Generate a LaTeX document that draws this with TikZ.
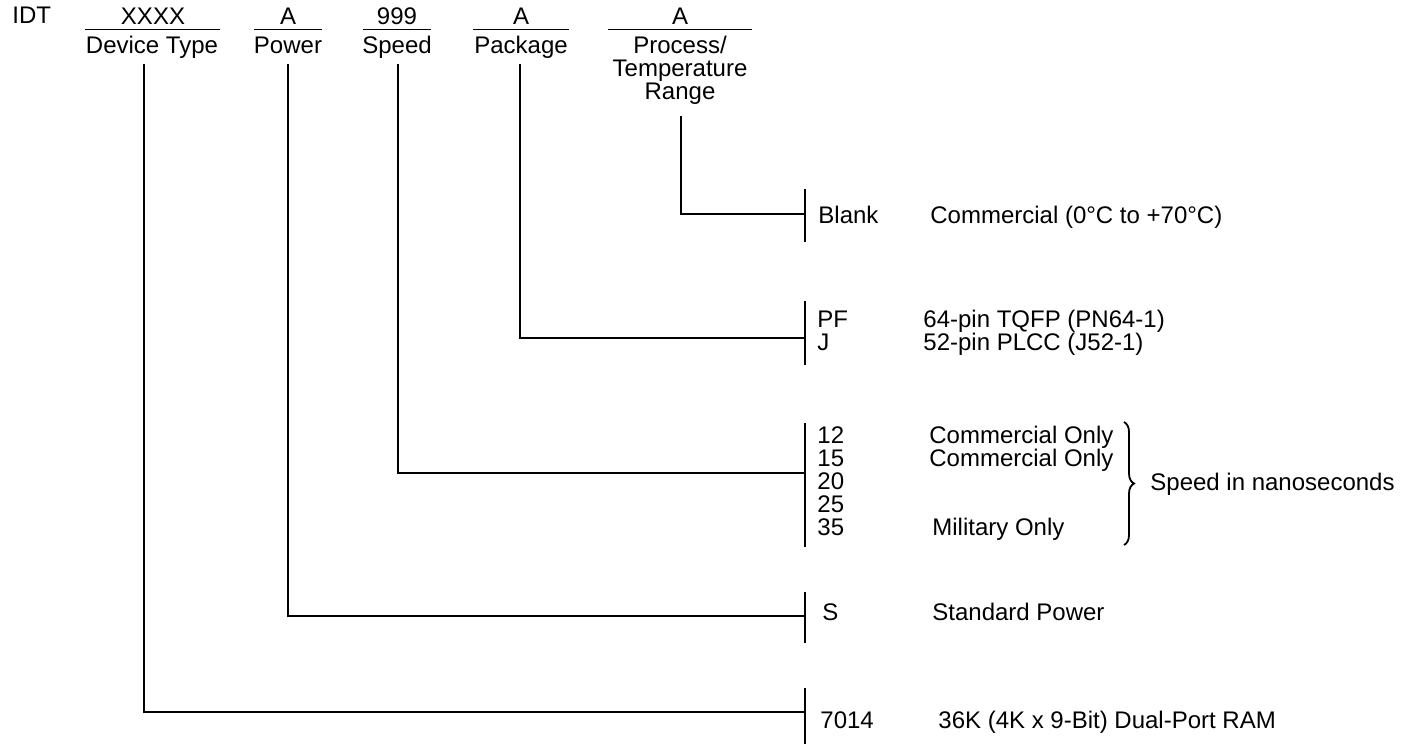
\documentclass[tikz,border=0pt]{standalone}
\usepackage{fontspec}
\setmainfont{Liberation Sans}
\usetikzlibrary{decorations.pathreplacing}
\begin{document}
\begin{tikzpicture}[x=0.5pt,y=-0.5pt,
  lbl/.style={inner sep=0pt, anchor=base, font=\fontsize{12}{14}\selectfont},
  lw/.style={inner sep=0pt, anchor=base west, font=\fontsize{12}{14}\selectfont},
  ln/.style={line width=0.7pt},
  brc/.style={line width=0.9pt, decorate, decoration={brace, amplitude=5pt}}]
\useasboundingbox (0,0) rectangle (1416,744);

% ---- header ----
\node[lw]  (idt) at (12,24) {IDT};
\node[lbl] (fx)  at (153,24.5) {XXXX};
\node[lbl] (fpw) at (288,24.5) {A};
\node[lbl] (fsp) at (397,24.5) {999};
\node[lbl] (fpk) at (521,24.5) {A};
\node[lbl] (fpr) at (680,24.5) {A};

\draw[ln] (85,29.5) -- (220,29.5);
\draw[ln] (254,29.5) -- (322,29.5);
\draw[ln] (363,29.5) -- (431,29.5);
\draw[ln] (473,29.5) -- (569,29.5);
\draw[ln] (608,29.5) -- (752,29.5);

\node[lbl] (ldt) at (152,53) {Device Type};
\node[lbl] (lpw) at (288,53) {Power};
\node[lbl] (lsp) at (397,53) {Speed};
\node[lbl] (lpk) at (521,53) {Package};
\node[lbl] (lpr1) at (680,53) {Process/};
\node[lbl] (lpr2) at (680,76) {Temperature};
\node[lbl] (lpr3) at (680,99) {Range};

% ---- lead tops ----
\coordinate (tdt) at (144,64);
\coordinate (tpw) at (288,64);
\coordinate (tsp) at (398,64);
\coordinate (tpk) at (520,64);
\coordinate (tpr) at (681,116);

% ---- bars ----
\coordinate (jpr) at (805,214);
\coordinate (jpk) at (805,338);
\coordinate (jsp) at (805,473);
\coordinate (jpw) at (805,616);
\coordinate (jdt) at (805,712);

\coordinate (bpr1) at (805,189); \coordinate (bpr2) at (805,242);
\coordinate (bpk1) at (805,301); \coordinate (bpk2) at (805,365);
\coordinate (bsp1) at (805,423); \coordinate (bsp2) at (805,547);
\coordinate (bpw1) at (805,592); \coordinate (bpw2) at (805,643);
\coordinate (bdt1) at (805,688); \coordinate (bdt2) at (805,744);

\draw[ln] (bpr1) -- (bpr2);
\draw[ln] (bpk1) -- (bpk2);
\draw[ln] (bsp1) -- (bsp2);
\draw[ln] (bpw1) -- (bpw2);
\draw[ln] (bdt1) -- (bdt2);

% ---- leads ----
\draw[ln] (tpr) |- (jpr);
\draw[ln] (tpk) |- (jpk);
\draw[ln] (tsp) |- (jsp);
\draw[ln] (tpw) |- (jpw);
\draw[ln] (tdt) |- (jdt);

% ---- options ----
\node[lw] (oblank) at (818,223) {Blank};
\node[lw] (dblank) at (930,223) {Commercial (0°C to +70°C)};

\node[lw] (opf) at (817,327) {PF};
\node[lw] (oj)  at (817,350) {J};
\node[lw] (dpf) at (923,327) {64-pin TQFP (PN64-1)};
\node[lw] (dj)  at (923,350) {52-pin PLCC (J52-1)};

\node[lw] (o12) at (817,443) {12};
\node[lw] (o15) at (817,466) {15};
\node[lw] (o20) at (817,489) {20};
\node[lw] (o25) at (817,512) {25};
\node[lw] (o35) at (817,535) {35};
\node[lw] (d12) at (929,443) {Commercial Only};
\node[lw] (d15) at (929,466) {Commercial Only};
\node[lw] (d35) at (932,535) {Military Only};
\coordinate (br1) at (1124,422);
\coordinate (br2) at (1124,545);
\draw[brc] (br1) -- (br2);
\node[lw] (dns) at (1150,490) {Speed in nanoseconds};

\node[lw] (os) at (822,620) {S};
\node[lw] (ds) at (932,620) {Standard Power};

\node[lw] (o7014) at (820,728) {7014};
\node[lw] (d7014) at (938,728) {36K (4K x 9-Bit) Dual-Port RAM};
\end{tikzpicture}
\end{document}
